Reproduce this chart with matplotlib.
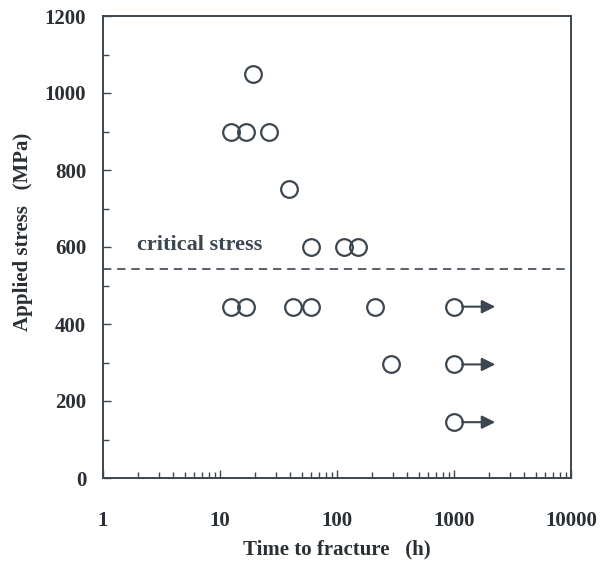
import numpy as np
import matplotlib.pyplot as plt
from matplotlib.ticker import MultipleLocator, LogLocator, NullFormatter

plt.rcParams['font.family'] = 'Liberation Serif'
plt.rcParams['font.weight'] = 'bold'

# fractured specimens
t_frac = [19, 12.4, 16.7, 26, 39, 60, 115, 150, 12.4, 16.7, 42, 60, 210, 290]
s_frac = [1050, 900, 900, 900, 750, 600, 600, 600, 445, 445, 445, 445, 445, 295]
# run-outs (no fracture)
t_run = [1000, 1000, 1000]
s_run = [445, 295, 145]
critical = 542

ink = '#3c4650'
txt = '#2a2f35'

fig = plt.figure(figsize=(6.08, 5.68), dpi=100)
ax = fig.add_axes([103/608, 90/568, 468/608, 462/568])

ax.plot(t_frac + t_run, s_frac + s_run, 'o', mfc='none', mec=ink, ms=12, mew=1.6)
for t, s in zip(t_run, s_run):
    ax.annotate('', xy=(t * 2.25, s), xytext=(t * 1.17, s),
                arrowprops=dict(arrowstyle='-|>', color=ink, lw=1.5,
                                mutation_scale=20, shrinkA=0, shrinkB=0))

ax.axhline(critical, color=ink, lw=1.2, ls=(0, (5, 3.5)))
ax.text(1.95, 605, 'critical stress', fontsize=16, color=ink, va='center')

ax.set_xscale('log')
ax.set_xlim(1, 10000)
ax.set_ylim(0, 1200)
ax.set_xticks([1, 10, 100, 1000, 10000])
ax.set_xticklabels(['1', '10', '100', '1000', '10000'])
ax.xaxis.set_minor_locator(LogLocator(base=10, subs=np.arange(2, 10)))
ax.xaxis.set_minor_formatter(NullFormatter())
ax.yaxis.set_major_locator(MultipleLocator(200))
ax.yaxis.set_minor_locator(MultipleLocator(100))

ax.tick_params(which='both', direction='in', colors=ink, labelcolor=txt, labelsize=15, width=1)
ax.tick_params(which='major', length=6)
ax.tick_params(which='minor', length=4)
ax.tick_params(axis='x', pad=24)
ax.tick_params(axis='y', pad=12)
for sp in ax.spines.values():
    sp.set_color(ink)
    sp.set_linewidth(1.4)

ax.set_xlabel('Time to fracture   (h)', fontsize=15, fontweight='bold', color=txt)
ax.set_ylabel('Applied stress   (MPa)', fontsize=15, fontweight='bold', color=txt)
ax.xaxis.set_label_coords(0.5, -0.134)
ax.yaxis.set_label_coords(-0.15, 0.532)

fig.savefig('out.png', dpi=100)
